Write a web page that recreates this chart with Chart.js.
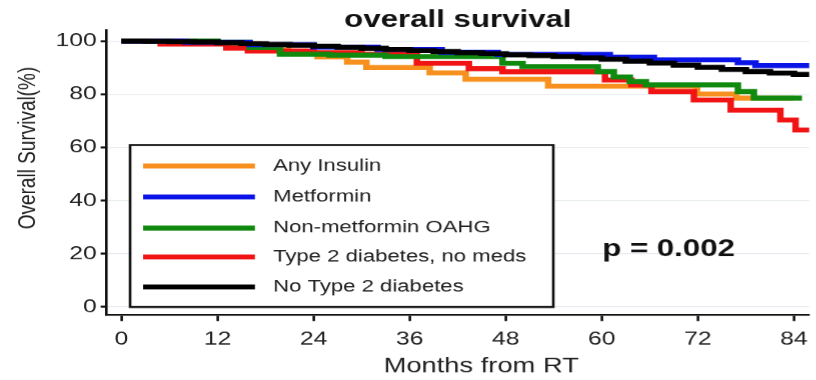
<!DOCTYPE html>
<html>
<head>
<meta charset="utf-8">
<script src="https://cdn.jsdelivr.net/npm/chart.js@4.4.1/dist/chart.umd.min.js"></script>
<style>
  html, body { margin: 0; padding: 0; background: #fff; overflow: hidden; }
  #wrap { width: 816px; height: 380px; overflow: hidden; }
  /* the source figure is stretched sideways, so the whole canvas is too */
  #survival { transform: scaleX(1.3); transform-origin: 0 0; }
</style>
</head>
<body>
<div id="wrap"><canvas id="survival" width="628" height="380"></canvas></div>
<script>
// Data (months from RT, survival %)
const xTicks = [0, 12, 24, 36, 48, 60, 72, 84];
const yTicks = [0, 20, 40, 60, 80, 100];

const seriesLabels = ['Any Insulin', 'Metformin', 'Non-metformin OAHG', 'Type 2 diabetes, no meds', 'No Type 2 diabetes'];
const seriesColors = ['#f7901e', '#0a14e6', '#0f8a0f', '#f01414', '#000000'];

const insulinMonths = [0, 10, 17, 20.8, 24.5, 28.2, 30.6, 38.5, 43, 53.3, 71.9, 76.8, 84];
const insulinSurv   = [100, 99, 97.5, 95.5, 94, 92, 90, 88, 85.6, 83, 80, 78.5, 78.5];

const metforminMonths = [0, 8, 16, 24, 32, 40, 47, 61, 66.5, 77, 79.2, 86];
const metforminSurv   = [100, 99.5, 98.6, 97.7, 96.8, 95.7, 94.9, 93.9, 92.9, 91.8, 90.7, 90.4];

const oahgMonths = [0, 12, 16, 19.8, 26, 33, 47.6, 50.1, 59.5, 61.5, 63.5, 65.5, 77, 79, 85];
const oahgSurv   = [100, 99.5, 97.5, 95, 94.6, 94.1, 91.6, 90.4, 88.5, 86.5, 84.7, 83.5, 81, 78.5, 78.5];

const noMedsMonths = [0, 4.9, 13.1, 15.8, 24, 30, 36.9, 43.4, 47.6, 60.4, 63.7, 66.2, 71.5, 76.1, 82.3, 84.2, 86];
const noMedsSurv   = [100, 98.8, 97.3, 96.2, 95.6, 95, 91.6, 89.6, 88.4, 85.3, 83.5, 81, 77.8, 74, 70.3, 66.5, 66.5];

const noDiabMonths = [0, 3, 6, 9, 12, 15, 18, 21, 24, 27, 30, 33, 36, 39, 42, 45, 48, 51, 54, 57, 60, 63, 66, 69, 72, 75, 78, 81, 84, 86];
const noDiabSurv   = [100, 99.9, 99.8, 99.6, 99.3, 99, 98.7, 98.4, 98, 97.6, 97.2, 96.8, 96.4, 96, 95.6, 95.2, 94.8, 94.5, 94.1, 93.6, 93.1, 92.4, 91.7, 90.9, 90.1, 89.3, 88.5, 87.9, 87.4, 87.1];

const allMonths = [insulinMonths, metforminMonths, oahgMonths, noMedsMonths, noDiabMonths];
const allSurv = [insulinSurv, metforminSurv, oahgSurv, noMedsSurv, noDiabSurv];
const drawOrder = [4, 1, 2, 3, 0]; // lower = drawn on top, black on top

function toPoints(months, surv) {
    return months.map((m, i) => ({ x: m, y: surv[i] }));
}

const datasets = seriesLabels.map((label, i) => ({
    label: label,
    data: toPoints(allMonths[i], allSurv[i]),
    borderColor: seriesColors[i],
    borderWidth: 5,
    stepped: true,
    pointRadius: 0,
    fill: false,
    order: drawOrder[i]
}));

// titles, legend box and p value
const annotations = {
    id: 'annotations',
    afterDraw(chart) {
        const ctx = chart.ctx;
        const area = chart.chartArea;
        ctx.save();
        ctx.fillStyle = '#111';
        ctx.textAlign = 'center';
        ctx.textBaseline = 'alphabetic';
        ctx.font = "bold 24px 'Liberation Sans', Arial, sans-serif";
        ctx.fillText('overall survival', (area.left + area.right) / 2, 27);

        ctx.fillStyle = '#222';
        ctx.font = "21px 'Liberation Sans', Arial, sans-serif";
        ctx.fillText('Months from RT', 370, 372);

        ctx.save();
        ctx.translate(21.5, 148);
        ctx.rotate(-Math.PI / 2);
        ctx.font = "19px 'Liberation Sans', Arial, sans-serif";
        ctx.textBaseline = 'middle';
        ctx.fillText('Overall Survival(%)', 0, 0);
        ctx.restore();

        // legend box
        const boxL = 100, boxR = 425.4, boxT = 145, boxB = 307;
        ctx.fillStyle = '#fff';
        ctx.fillRect(boxL, boxT, boxR - boxL, boxB - boxT);
        ctx.strokeStyle = '#111';
        ctx.lineWidth = 2;
        ctx.strokeRect(boxL, boxT, boxR - boxL, boxB - boxT);

        const rowY = [166, 197, 228, 257, 287];
        ctx.textAlign = 'left';
        ctx.textBaseline = 'middle';
        ctx.font = "17px 'Liberation Sans', Arial, sans-serif";
        seriesLabels.forEach((label, i) => {
            ctx.strokeStyle = seriesColors[i];
            ctx.lineWidth = 5;
            ctx.beginPath();
            ctx.moveTo(110, rowY[i]);
            ctx.lineTo(196, rowY[i]);
            ctx.stroke();
            ctx.fillStyle = '#222';
            ctx.fillText(label, 210, rowY[i]);
        });

        ctx.fillStyle = '#111';
        ctx.textBaseline = 'alphabetic';
        ctx.font = "bold 24px 'Liberation Sans', Arial, sans-serif";
        ctx.fillText('p = 0.002', 463, 256);
        ctx.restore();
    }
};

Chart.defaults.font.family = "'Liberation Sans', Arial, sans-serif";
Chart.defaults.color = '#222';

const ctxKM = document.getElementById('survival');

new Chart(ctxKM, {
    type: 'line',
    data: { datasets: datasets },
    options: {
        responsive: false,
        animation: false,
        devicePixelRatio: 1.3,
        layout: { padding: { top: 30, left: 0, right: 0, bottom: 0 } },
        plugins: {
            legend: { display: false },
            title: { display: false },
            tooltip: { enabled: false }
        },
        scales: {
            x: {
                type: 'linear',
                min: -1.85,
                max: 85.9,
                afterFit: (s) => { s.height = 65; },
                afterBuildTicks: (s) => { s.ticks = xTicks.map(v => ({ value: v })); },
                ticks: { font: { size: 19 }, color: '#222', padding: 7, maxRotation: 0, autoSkip: false },
                grid: { drawOnChartArea: false, tickLength: 6, tickColor: '#111', tickWidth: 2 },
                border: { color: '#111', width: 2 }
            },
            y: {
                min: -3,
                max: 104.1,
                afterFit: (s) => { s.width = 82; },
                afterBuildTicks: (s) => { s.ticks = yTicks.map(v => ({ value: v })); },
                ticks: { font: { size: 19 }, color: '#222', padding: 3 },
                grid: { color: '#e8ebef', lineWidth: 1, tickLength: 4.6, tickColor: '#111', tickWidth: 2 },
                border: { color: '#111', width: 2 }
            }
        }
    },
    plugins: [annotations]
});
</script>
</body>
</html>
